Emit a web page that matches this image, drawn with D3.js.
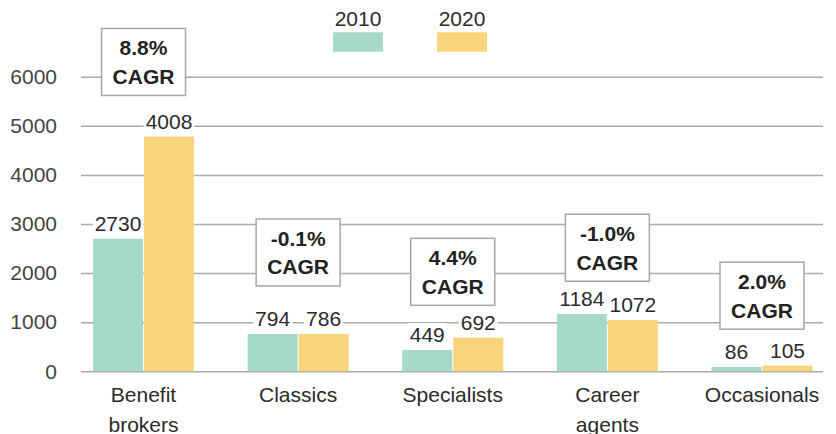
<!DOCTYPE html>
<html><head><meta charset="utf-8">
<script src="https://cdn.jsdelivr.net/npm/d3@7"></script>
<style>
html,body{margin:0;padding:0;background:#fff;}
text{font-family:"Liberation Sans",Arial,sans-serif;}
</style></head>
<body><svg id="c" width="836" height="434"></svg>
<script>
// ---- data ----
const categories = [["Benefit","brokers"],["Classics"],["Specialists"],["Career","agents"],["Occasionals"]];
const categoryKeys = ["Benefit brokers","Classics","Specialists","Career agents","Occasionals"];
const series = ["2010","2020"];
// bar heights as drawn in the picture
const values2010 = [2700, 760, 434, 1167, 88];
const values2020 = [4780, 760, 684, 1045, 114];
// value labels as printed
const labels2010 = ["2730","794","449","1184","86"];
const labels2020 = ["4008","786","692","1072","105"];
const cagr = ["8.8%","-0.1%","4.4%","-1.0%","2.0%"];
const cagrLevel = [6300, 2420, 2026, 2517, 1540];
const yTicks = [0,1000,2000,3000,4000,5000,6000];

const colors = {"2010":"#a7d9c9","2020":"#f9d47b"};
const FS = 21;
const svg = d3.select("#c");

const y = d3.scaleLinear().domain([0,6000]).range([371.3,76.7]);
const x0 = d3.scaleBand().domain(categoryKeys).range([66.2,839.3]).padding(0);
const x1 = d3.scaleBand().domain(series).range([-50.5,50.5]).paddingInner(0.02);

// gridlines + ticks
const axis = d3.axisLeft(y).tickValues(yTicks).tickSize(-(823-81)).tickPadding(24).tickFormat(d3.format("d"));
const gA = svg.append("g").attr("transform","translate(81,0)").call(axis);
gA.select(".domain").remove();
gA.selectAll(".tick line").attr("stroke","#aaa").attr("stroke-width",1.5);
gA.selectAll(".tick text").attr("font-size",FS).attr("fill","#444").attr("font-family","Liberation Sans, Arial, sans-serif");

// bars
const rows = categoryKeys.map((k,i)=>({k,i,vals:[{s:"2010",v:values2010[i],l:labels2010[i]},{s:"2020",v:values2020[i],l:labels2020[i]}]}));
const g = svg.selectAll("g.grp").data(rows).join("g").attr("class","grp")
  .attr("transform",d=>`translate(${x0(d.k)+x0.bandwidth()/2},0)`);
g.selectAll("rect.bar").data(d=>d.vals).join("rect").attr("class","bar")
  .attr("x",d=>x1(d.s)).attr("width",x1.bandwidth())
  .attr("y",d=>y(d.v)).attr("height",d=>y(0)-y(d.v))
  .attr("fill",d=>colors[d.s]);

// value labels with white backgrounds
g.each(function(d){
  const gg=d3.select(this);
  d.vals.forEach(v=>{
    const cx=x1(v.s)+x1.bandwidth()/2;
    const t=gg.append("text").attr("x",cx).attr("y",y(v.v)-8).attr("text-anchor","middle")
      .attr("font-size",FS).attr("fill","#2b2b2b").text(v.l);
    const bb=t.node().getBBox();
    gg.insert("rect","text").attr("x",bb.x-2).attr("y",bb.y).attr("width",bb.width+4).attr("height",bb.height).attr("fill","#fff");
  });
});

// category labels
g.each(function(d){
  const t=d3.select(this).append("text").attr("text-anchor","middle").attr("font-size",FS).attr("fill","#2b2b2b");
  categories[d.i].forEach((line,j)=>t.append("tspan").attr("x",0).attr("y",401.5+j*30).text(line));
});

// CAGR boxes
g.each(function(d){
  const cy=y(cagrLevel[d.i]);
  const gg=d3.select(this);
  gg.append("rect").attr("x",-42).attr("y",cy-33.5).attr("width",84).attr("height",67)
    .attr("fill","#fff").attr("stroke","#a8a8a8").attr("stroke-width",1.5);
  gg.append("text").attr("x",0).attr("y",cy-6.5).attr("text-anchor","middle").attr("font-size",FS).attr("font-weight","bold").attr("fill","#222").text(cagr[d.i]);
  gg.append("text").attr("x",0).attr("y",cy+22).attr("text-anchor","middle").attr("font-size",FS).attr("font-weight","bold").attr("fill","#222").text("CAGR");
});

// legend
const legX = d3.scaleOrdinal().domain(series).range([358,462]);
const lg = svg.selectAll("g.leg").data(series).join("g").attr("class","leg").attr("transform",d=>`translate(${legX(d)},0)`);
lg.append("text").attr("x",0).attr("y",25.7).attr("text-anchor","middle").attr("font-size",FS).attr("fill","#2b2b2b").text(d=>d);
lg.append("rect").attr("x",-25).attr("y",32.3).attr("width",50).attr("height",19.4).attr("fill",d=>colors[d]);
</script></body></html>
